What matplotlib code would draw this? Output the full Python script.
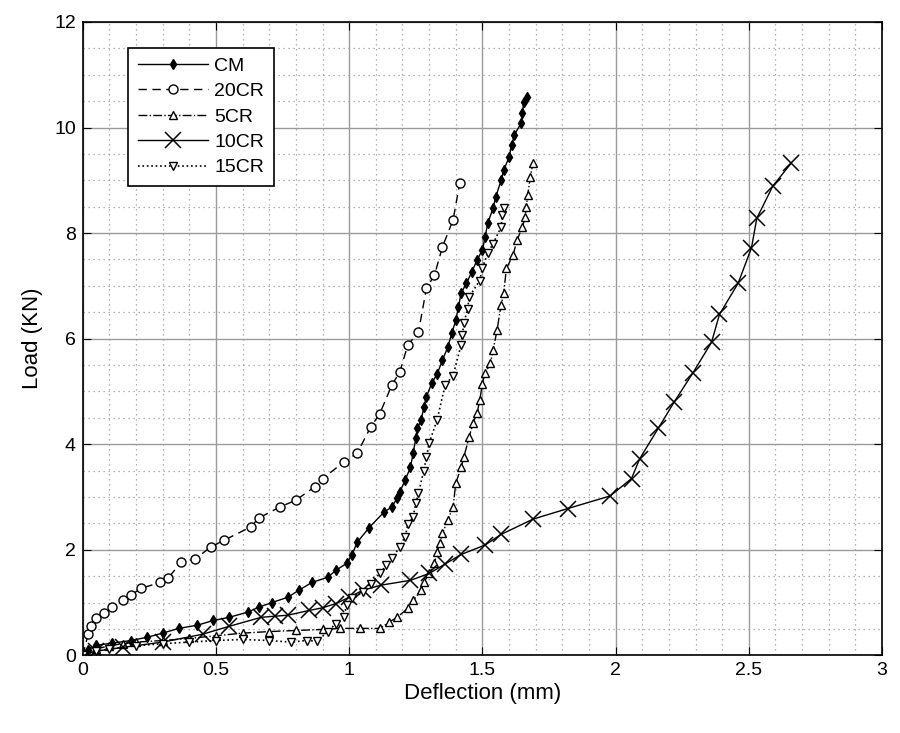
import matplotlib
matplotlib.use("Agg")
import matplotlib.pyplot as plt
from matplotlib.ticker import MultipleLocator, FormatStrFormatter

plt.rcParams.update({
    "font.family": ["Liberation Sans", "DejaVu Sans"],
    "font.size": 14,
})

# values
cm_x = [0, 0.02, 0.05, 0.11, 0.18, 0.24, 0.30, 0.36, 0.43, 0.49, 0.55, 0.62, 0.66,
        0.71, 0.77, 0.81, 0.86, 0.92, 0.95, 0.99, 1.01, 1.03, 1.075, 1.13, 1.16,
        1.18, 1.19, 1.21, 1.23, 1.24, 1.25, 1.255, 1.27, 1.28, 1.29, 1.31, 1.33,
        1.35, 1.37, 1.385, 1.40, 1.41, 1.42, 1.44, 1.46, 1.48, 1.50, 1.51, 1.52,
        1.54, 1.55, 1.57, 1.58, 1.60, 1.61, 1.62, 1.645, 1.65, 1.655, 1.667]
cm_y = [0, 0.10, 0.19, 0.23, 0.28, 0.34, 0.42, 0.51, 0.57, 0.66, 0.72, 0.82, 0.91,
        1.00, 1.10, 1.23, 1.38, 1.48, 1.61, 1.74, 1.90, 2.14, 2.42, 2.71, 2.81,
        2.98, 3.09, 3.32, 3.56, 3.83, 4.11, 4.30, 4.45, 4.70, 4.90, 5.16, 5.33,
        5.59, 5.84, 6.10, 6.35, 6.60, 6.86, 7.05, 7.26, 7.49, 7.68, 7.92, 8.19,
        8.47, 8.68, 9.00, 9.19, 9.44, 9.67, 9.86, 10.08, 10.27, 10.48, 10.58]

cr20_x = [0, 0.02, 0.03, 0.05, 0.08, 0.11, 0.15, 0.18, 0.22, 0.29, 0.32, 0.37,
          0.42, 0.48, 0.53, 0.63, 0.66, 0.74, 0.80, 0.87, 0.90, 0.98, 1.03, 1.08,
          1.115, 1.16, 1.19, 1.22, 1.26, 1.29, 1.32, 1.35, 1.39, 1.415]
cr20_y = [0, 0.40, 0.55, 0.70, 0.80, 0.91, 1.04, 1.14, 1.27, 1.38, 1.46, 1.77,
          1.82, 2.05, 2.18, 2.43, 2.60, 2.81, 2.94, 3.19, 3.35, 3.66, 3.83, 4.32,
          4.58, 5.12, 5.37, 5.88, 6.12, 6.96, 7.20, 7.74, 8.25, 8.95]

cr5_x = [0, 0.05, 0.10, 0.15, 0.20, 0.30, 0.40, 0.50, 0.60, 0.70, 0.80, 0.90,
         0.965, 1.04, 1.115, 1.15, 1.18, 1.22, 1.24, 1.27, 1.28, 1.30, 1.32, 1.33,
         1.34, 1.35, 1.37, 1.39, 1.40, 1.42, 1.43, 1.45, 1.465, 1.48, 1.49, 1.50,
         1.51, 1.53, 1.54, 1.555, 1.57, 1.58, 1.59, 1.615, 1.63, 1.65, 1.66, 1.665,
         1.67, 1.68, 1.69]
cr5_y = [0, 0.12, 0.18, 0.22, 0.25, 0.28, 0.32, 0.37, 0.42, 0.45, 0.47, 0.49,
         0.51, 0.51, 0.51, 0.63, 0.72, 0.89, 1.04, 1.23, 1.38, 1.55, 1.74, 1.95,
         2.12, 2.31, 2.56, 2.81, 3.26, 3.56, 3.75, 4.13, 4.40, 4.59, 4.83, 5.15,
         5.34, 5.53, 5.78, 6.16, 6.64, 6.86, 7.33, 7.58, 7.87, 8.11, 8.30, 8.50,
         8.72, 9.07, 9.33]

cr10_x = [0, 0.05, 0.15, 0.30, 0.45, 0.55, 0.67, 0.72, 0.77, 0.85, 0.90, 0.95,
          1.00, 1.05, 1.12, 1.23, 1.30, 1.36, 1.42, 1.51, 1.57, 1.69, 1.82, 1.98,
          2.06, 2.09, 2.16, 2.22, 2.29, 2.36, 2.39, 2.46, 2.51, 2.53, 2.59, 2.66]
cr10_y = [0, 0.08, 0.15, 0.25, 0.40, 0.55, 0.72, 0.74, 0.76, 0.85, 0.90, 0.98,
          1.10, 1.23, 1.33, 1.42, 1.55, 1.73, 1.91, 2.09, 2.29, 2.58, 2.78, 3.02,
          3.35, 3.72, 4.30, 4.80, 5.35, 5.93, 6.46, 7.05, 7.72, 8.28, 8.89, 9.33]

cr15_x = [0, 0.05, 0.10, 0.20, 0.30, 0.40, 0.50, 0.60, 0.70, 0.78, 0.84, 0.88,
          0.92, 0.95, 0.98, 0.99, 1.01, 1.05, 1.08, 1.115, 1.14, 1.16, 1.19, 1.21,
          1.22, 1.24, 1.25, 1.26, 1.28, 1.29, 1.30, 1.33, 1.36, 1.39, 1.42, 1.425,
          1.43, 1.445, 1.45, 1.49, 1.50, 1.52, 1.54, 1.57, 1.575, 1.58]
cr15_y = [0, 0.08, 0.12, 0.18, 0.22, 0.25, 0.28, 0.30, 0.28, 0.25, 0.28, 0.27,
          0.45, 0.60, 0.72, 0.95, 1.08, 1.19, 1.36, 1.55, 1.71, 1.84, 2.05, 2.24,
          2.48, 2.62, 2.88, 3.07, 3.50, 3.75, 4.02, 4.46, 5.12, 5.30, 5.88, 6.07,
          6.29, 6.57, 6.79, 7.10, 7.34, 7.62, 7.80, 8.11, 8.35, 8.47]

fig = plt.figure(figsize=(9, 7.33), dpi=100)
ax = fig.add_axes([0.092, 0.106, 0.888, 0.864])

ax.plot(cm_x, cm_y, "-", color="black", lw=1, marker="d", ms=5,
        mfc="black", mec="black", label="CM")
ax.plot(cr20_x, cr20_y, "--", color="black", lw=1, marker="o", ms=6.5,
        mfc="white", mec="black", dashes=(6, 4), label="20CR")
ax.plot(cr5_x, cr5_y, "-.", color="black", lw=1, marker="^", ms=6,
        mfc="white", mec="black", label="5CR")
ax.plot(cr10_x, cr10_y, "-", color="black", lw=1, marker="x", ms=11,
        mew=1.1, label="10CR")
ax.plot(cr15_x, cr15_y, ":", color="black", lw=1.2, marker="v", ms=6,
        mfc="white", mec="black", label="15CR")

ax.set_xlim(0, 3)
ax.set_ylim(0, 12)
ax.xaxis.set_major_locator(MultipleLocator(0.5))
ax.xaxis.set_minor_locator(MultipleLocator(0.1))
ax.yaxis.set_major_locator(MultipleLocator(2))
ax.yaxis.set_minor_locator(MultipleLocator(0.5))
ax.xaxis.set_major_formatter(FormatStrFormatter("%g"))
ax.yaxis.set_major_formatter(FormatStrFormatter("%g"))
ax.grid(True, which="major", color="#9a9a9a", lw=1)
ax.grid(True, which="minor", color="#9a9a9a", lw=0.9, ls=(0, (1, 3)))
ax.set_axisbelow(True)
ax.tick_params(which="both", direction="in", top=True, right=True)
ax.tick_params(which="major", length=6, labelsize=14, pad=5)
ax.tick_params(which="minor", length=0)
for s in ax.spines.values():
    s.set_linewidth(1.2)

ax.set_xlabel("Deflection (mm)", fontsize=16, labelpad=3)
ax.set_ylabel("Load (KN)", fontsize=16, labelpad=8)

leg = ax.legend(loc="upper left", bbox_to_anchor=(0.045, 0.975), fontsize=14,
                handlelength=3.6, handletextpad=0.3, labelspacing=0.4,
                borderpad=0.5, fancybox=False, framealpha=1, edgecolor="black")
leg.get_frame().set_linewidth(1.2)

fig.savefig("out.png", dpi=100)
